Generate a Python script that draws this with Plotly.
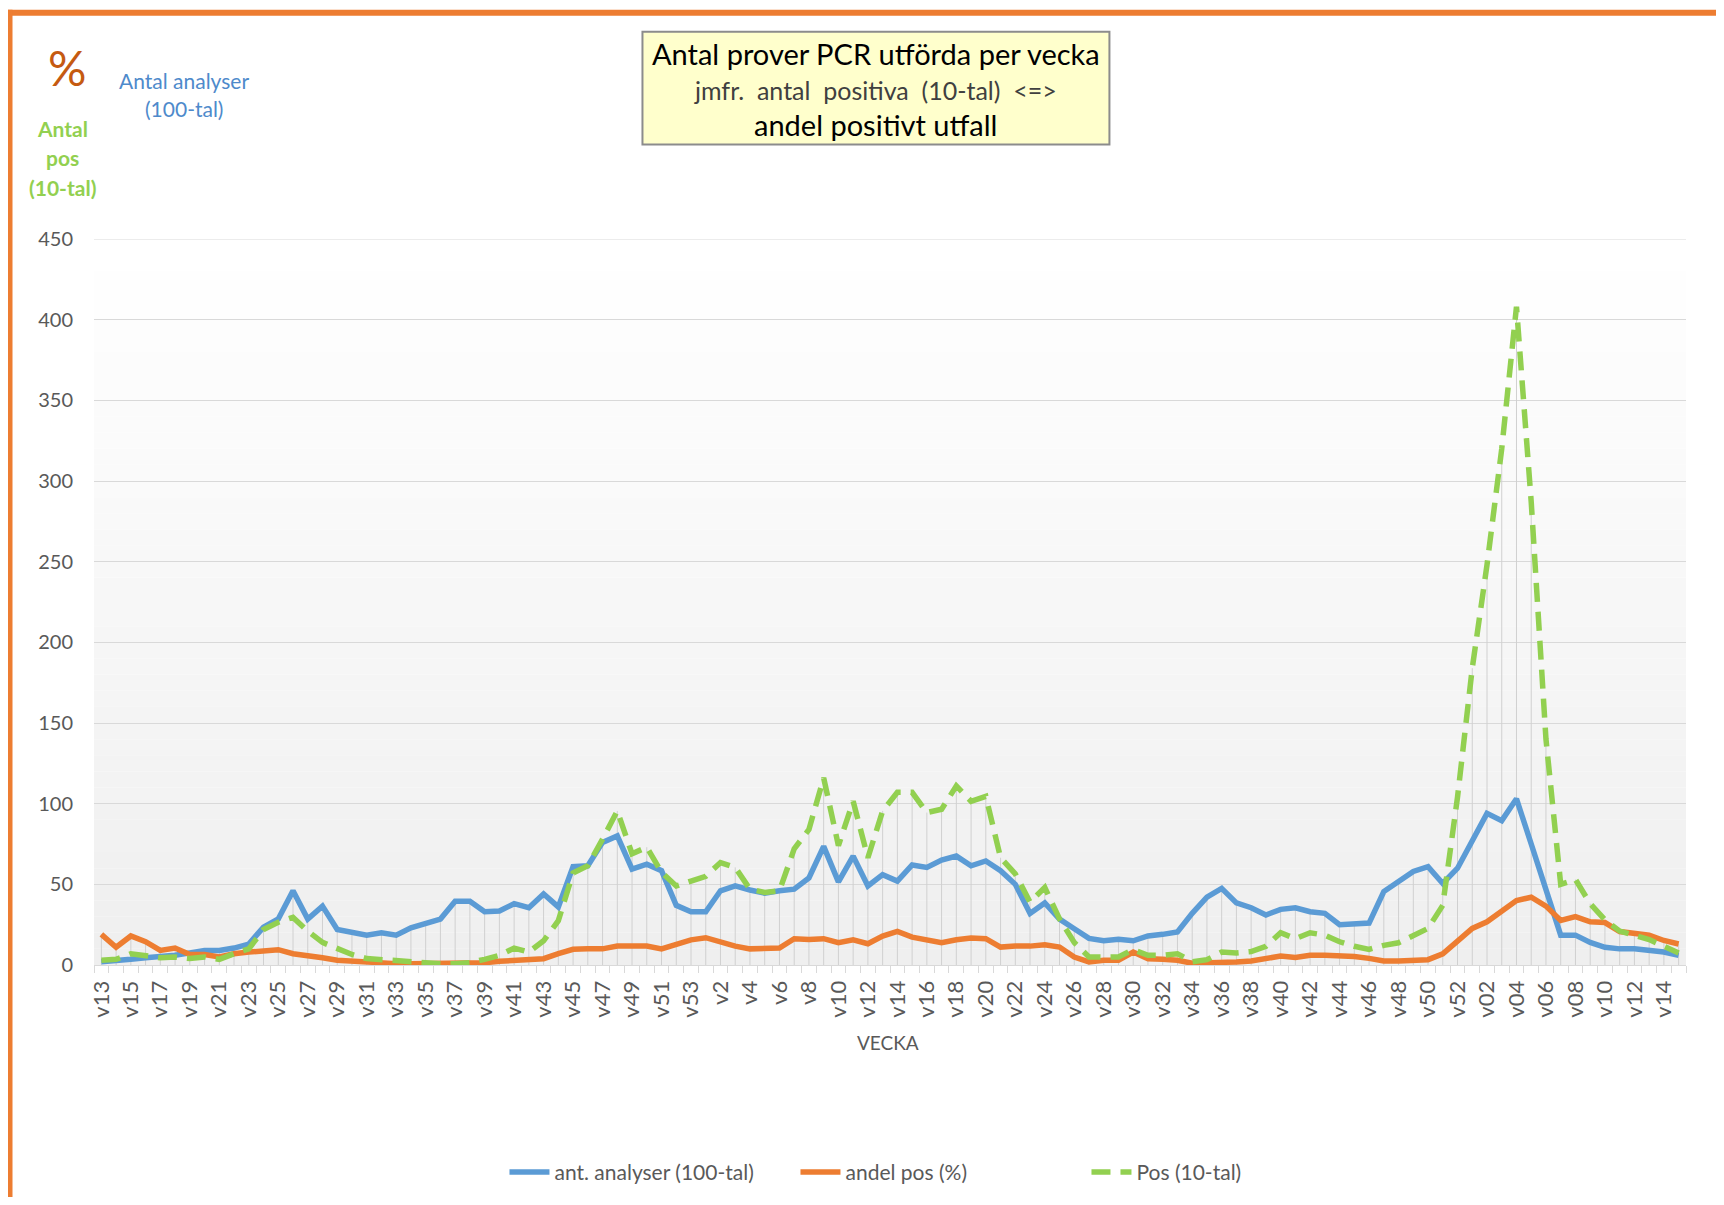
import plotly.graph_objects as go

# ---------------- data ----------------
weeks_2020 = ["v13", "v14", "v15", "v16", "v17", "v18", "v19", "v20", "v21", "v22",
              "v23", "v24", "v25", "v26", "v27", "v28", "v29", "v30", "v31", "v32",
              "v33", "v34", "v35", "v36", "v37", "v38", "v39", "v40", "v41", "v42",
              "v43", "v44", "v45", "v46", "v47", "v48", "v49", "v50", "v51", "v52", "v53"]
weeks_2021 = ["v1", "v2", "v3", "v4", "v5", "v6", "v7", "v8", "v9", "v10",
              "v11", "v12", "v13", "v14", "v15", "v16", "v17", "v18", "v19", "v20",
              "v21", "v22", "v23", "v24", "v25", "v26", "v27", "v28", "v29", "v30",
              "v31", "v32", "v33", "v34", "v35", "v36", "v37", "v38", "v39", "v40",
              "v41", "v42", "v43", "v44", "v45", "v46", "v47", "v48", "v49", "v50",
              "v51", "v52"]
weeks_2022 = ["v01", "v02", "v03", "v04", "v05", "v06", "v07", "v08", "v09", "v10",
              "v11", "v12", "v13", "v14", "v15"]
weeks = weeks_2020 + weeks_2021 + weeks_2022

# ant. analyser (100-tal)
analyser = [2, 2.5, 3.5, 4.5, 5, 6, 7.5, 9, 9, 10.5,
            13, 23.5, 28.5, 46, 28.5, 36.5, 22, 20, 18.5, 20,
            18.5, 23, 25.5, 28.5, 39.5, 39.5, 33, 33.5, 38, 35.5,
            44, 36, 61, 61.5, 76, 80, 59.5, 62.5, 58.5, 37,
            33, 33, 46, 49, 46.5, 44.5, 46, 47, 54, 73.5,
            51.5, 67.5, 49, 56, 52, 62, 60.5, 65, 67.5, 61.5,
            64.5, 58.5, 50, 32, 38.5, 28.5, 22.5, 16.5, 15, 16,
            15, 18, 19, 20.5, 32, 42, 47.5, 38.5, 35.5, 31,
            34.5, 35.5, 33, 32, 25, 25.5, 26, 45.5, 51.5, 58,
            61, 50.5, 60, 77, 94, 89.5, 103, 75, 46, 18.5,
            18.5, 14, 11, 10, 10, 9, 8, 6]

# andel pos (%)
andel_pos = [19, 11, 18, 14.5, 9, 10.5, 6.5, 6.5, 5, 7,
             8, 8.5, 9.5, 7, 6, 4.5, 3, 2.3, 1.9, 1.4,
             0.8, 0.8, 0.8, 0.8, 0.8, 0.8, 1.4, 2.3, 2.9, 2.9,
             3.9, 7, 9.7, 10, 10, 11.7, 11.7, 11.7, 10, 13.2,
             15.6, 16.9, 14.2, 11.7, 10, 10, 10.5, 16.3, 15.8, 16.3,
             13.8, 15.6, 13.2, 17.9, 20.8, 17.3, 15.2, 13.8, 15.6, 16.7,
             16.3, 11.1, 11.7, 11.7, 12.6, 11.1, 4.9, 1.9, 2.9, 2.9,
             8, 3.9, 3.5, 2.9, 1.1, 1.1, 1.9, 1.9, 2.5, 4.1,
             5.5, 4.7, 6.1, 6.1, 6.1, 5.3, 4.1, 2.5, 2.5, 2.8,
             3.3, 6.9, 14.4, 22.7, 26.8, 33.7, 40, 42, 36.5, 27.6,
             30, 26.8, 26.3, 20.7, 20, 18.5, 15.2, 13]

# Pos (10-tal)
pos = [3, 3.5, 7, 6, 4.5, 5, 4, 5, 3.5, 7,
       10, 22, 26.5, 29.5, 21, 14, 10, 6.5, 4, 3.3,
       3, 2, 1.2, 0.8, 0.8, 1.5, 3.5, 6, 10.5, 8,
       15, 27.5, 57, 61.5, 78, 95.5, 69, 73, 57.5, 49,
       52, 55, 63.5, 60.5, 47, 45, 46, 72, 84, 116,
       74, 101.5, 66.5, 95.5, 107, 107, 94.5, 96.5, 111, 101.5,
       104.5, 66.5, 56.5, 39, 48, 28.5, 14, 5, 5, 5,
       9.5, 6, 6, 7, 2, 3.3, 8, 7.5, 8.3, 11.6,
       20, 16.3, 20, 18.5, 14.4, 11.6, 9.7, 12.2, 13.8, 18.5,
       22.7, 37, 104, 184, 248, 320, 408, 287, 140, 50,
       53, 38, 28, 21, 18.5, 15.8, 11.6, 7.5]

y_ticks = [0, 50, 100, 150, 200, 250, 300, 350, 400, 450]

# ---------------- geometry helpers ----------------
FIG_W, FIG_H = 1708, 1189
OFF = 8  # default body margin of the html page
L, R, T, B = 85.5, 30.4, 230.6, 231.6
PW = FIG_W - L - R
PH = FIG_H - T - B


def px(X):
    return (X - OFF - L) / PW


def py(Y):
    return (FIG_H - B - (Y - OFF)) / PH


FONT = "Lato, 'Open Sans', sans-serif"
GREY_TXT = "#595959"
NB = "\u00a0"

x = list(range(len(weeks)))

fig = go.Figure()

# drop lines (from highest series down to axis)
dx, dy = [], []
for i, (a, b, c) in enumerate(zip(analyser, andel_pos, pos)):
    dx += [i, i, None]
    dy += [0, max(a, b, c), None]
fig.add_trace(go.Scatter(x=dx, y=dy, mode="lines", line=dict(color="#d0d0d0", width=1),
                         showlegend=False, hoverinfo="skip"))

fig.add_trace(go.Scatter(x=x, y=analyser, mode="lines", name="ant. analyser (100-tal)",
                         line=dict(color="#5B9BD5", width=5.5)))
fig.add_trace(go.Scatter(x=x, y=andel_pos, mode="lines", name="andel pos (%)",
                         line=dict(color="#ED7D31", width=5.5)))
fig.add_trace(go.Scatter(x=x, y=pos, mode="lines", name="Pos (10-tal)",
                         line=dict(color="#92D050", width=5.5, dash="19px,10px")))

shapes = []
# gradient background of plot area
N = 45
for k in range(N):
    t = k / (N - 1)
    v = round(255 - 16 * (1 - t))
    shapes.append(dict(type="rect", xref="paper", yref="paper", x0=0, x1=1,
                       y0=k / N, y1=(k + 1) / N, layer="below",
                       fillcolor=f"rgb({v},{v},{v})", line=dict(width=0)))
# top gridline (at the end of the range)
shapes.append(dict(type="line", xref="paper", yref="y", x0=0, x1=1, y0=y_ticks[-1], y1=y_ticks[-1],
                   layer="below", line=dict(color="#d9d9d9", width=1)))
# orange frame
shapes.append(dict(type="rect", xref="paper", yref="paper", x0=px(0), x1=px(1724),
                   y0=py(15), y1=py(9), fillcolor="#ED7D31", line=dict(width=0)))
shapes.append(dict(type="rect", xref="paper", yref="paper", x0=px(6), x1=px(12),
                   y0=py(1210), y1=py(9), fillcolor="#ED7D31", line=dict(width=0)))
# title box
shapes.append(dict(type="rect", xref="paper", yref="paper", x0=px(642), x1=px(1109),
                   y0=py(144), y1=py(31), fillcolor="#FFFFCC",
                   line=dict(color="#8C8C8C", width=2)))

annotations = []


def ann(text, X, Y, size, color, bold=False):
    if bold:
        text = f"<b>{text}</b>"
    annotations.append(dict(text=text, x=px(X), y=py(Y), xref="paper", yref="paper",
                            xanchor="center", yanchor="middle", showarrow=False,
                            font=dict(family=FONT, size=size, color=color)))


ann("Antal prover PCR utförda per vecka", 875.5, 53, 29, "#000000")
ann(f" {NB}".join(["jmfr.", "antal", "positiva", "(10-tal)", "&lt;=&gt;"]), 875.5, 89, 25, "#404040")
ann("andel positivt utfall", 875.5, 124, 29, "#000000")
ann("%", 66, 67, 48, "#C55A11")
ann("Antal analyser", 184, 80, 21, "#4E8ACB")
ann("(100-tal)", 184, 108, 21, "#4E8ACB")
ann("Antal", 62, 128, 21, "#92D050", bold=True)
ann("pos", 62, 157, 21, "#92D050", bold=True)
ann("(10-tal)", 62, 187, 21, "#92D050", bold=True)
ann("VECKA", 888, 1043, 19, GREY_TXT)

fig.update_layout(
    width=FIG_W, height=FIG_H,
    margin=dict(l=L, r=R, t=T, b=B, pad=0, autoexpand=False),
    paper_bgcolor="white", plot_bgcolor="white",
    font=dict(family=FONT, color=GREY_TXT),
    shapes=shapes, annotations=annotations,
    hovermode=False,
    legend=dict(orientation="h", x=px(504), xanchor="left", y=py(1173), yanchor="middle",
                font=dict(family=FONT, size=21, color=GREY_TXT), bgcolor="rgba(0,0,0,0)",
                itemwidth=40, entrywidthmode="pixels", entrywidth=236),
    xaxis=dict(range=[-0.5, len(weeks) - 0.5], tickmode="array",
               tickvals=x[::2], ticktext=weeks[::2], tickangle=-90,
               tickfont=dict(family=FONT, size=22, color=GREY_TXT),
               ticks="", ticklabelstandoff=6,
               showgrid=False, zeroline=False, showline=True, linecolor="#d9d9d9", linewidth=1,
               minor=dict(tickmode="array", tickvals=[i - 0.5 for i in range(len(weeks) + 1)],
                          ticks="outside", ticklen=7, tickcolor="#d9d9d9", tickwidth=1,
                          showgrid=False)),
    yaxis=dict(range=[0, 450], tickmode="array", tickvals=y_ticks,
               tickfont=dict(family=FONT, size=20, color=GREY_TXT),
               showgrid=True, gridcolor="#d9d9d9", gridwidth=1,
               zeroline=False, showline=False, ticks="", ticklabelstandoff=20),
)

fig.write_html("out.html")
